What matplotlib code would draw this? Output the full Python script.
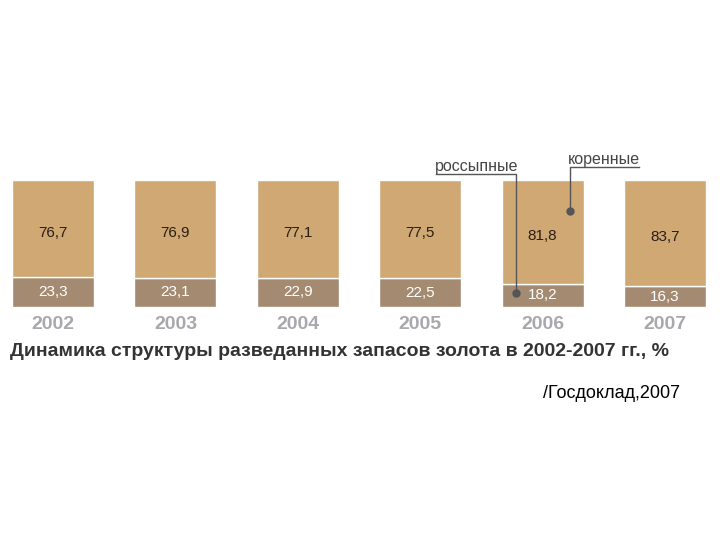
import matplotlib.pyplot as plt

years = ['2002', '2003', '2004', '2005', '2006', '2007']
rossypnye = [23.3, 23.1, 22.9, 22.5, 18.2, 16.3]   # нижняя часть
korennye = [76.7, 76.9, 77.1, 77.5, 81.8, 83.7]    # верхняя часть

def fmt(v):
    return ('%.1f' % v).replace('.', ',')

fig = plt.figure(figsize=(7.2, 5.4), dpi=100)
ax = fig.add_axes([12 / 720, 1 - 307 / 540, 694 / 720, 127 / 540])

x = list(range(len(years)))
w = 0.67
ax.bar(x, rossypnye, width=w, color='#a48a70', edgecolor='white', linewidth=1)
ax.bar(x, korennye, width=w, bottom=rossypnye, color='#cfa874', edgecolor='white', linewidth=1)

for i in x:
    ax.text(i, rossypnye[i] + korennye[i] / 2 - 3, fmt(korennye[i]), ha='center', va='center',
            fontsize=11, color='#2a1f14', family='Liberation Sans')
    ax.text(i, rossypnye[i] / 2, fmt(rossypnye[i]), ha='center', va='center',
            fontsize=11, color='white', family='Liberation Sans')
    ax.text(i, -13.5, years[i], ha='center', va='center', fontsize=14, fontweight='bold',
            color='#a8a8ad', family='Liberation Sans')

ax.set_xlim(-0.336, 5.336)
ax.set_ylim(0, 100)
ax.axis('off')

# выноски
lc = '#555555'
ax.plot([3.133, 3.787, 3.787], [104.7, 104.7, 11], color=lc, lw=1, clip_on=False)
ax.plot(3.787, 11, 'o', color='#555555', ms=5, clip_on=False)
ax.text(3.46, 110.5, 'россыпные', ha='center', va='center', fontsize=11.5, color='#444444',
        family='Liberation Sans')
ax.plot([4.79, 4.225, 4.225], [110.2, 110.2, 75.6], color=lc, lw=1, clip_on=False)
ax.plot(4.225, 75.6, 'o', color='#555555', ms=5, clip_on=False)
ax.text(4.505, 116.5, 'коренные', ha='center', va='center', fontsize=11.5, color='#444444',
        family='Liberation Sans')

fig.text(10 / 720, 1 - 352 / 540, 'Динамика структуры разведанных запасов золота в 2002-2007 гг., %',
         ha='left', va='center', fontsize=14, fontweight='bold', color='#333333',
         family='Liberation Sans')
fig.text(680 / 720, 1 - 393 / 540, '/Госдоклад,2007', ha='right', va='center', fontsize=13,
         color='black', family='Liberation Sans')

fig.savefig('out.png', dpi=100)
